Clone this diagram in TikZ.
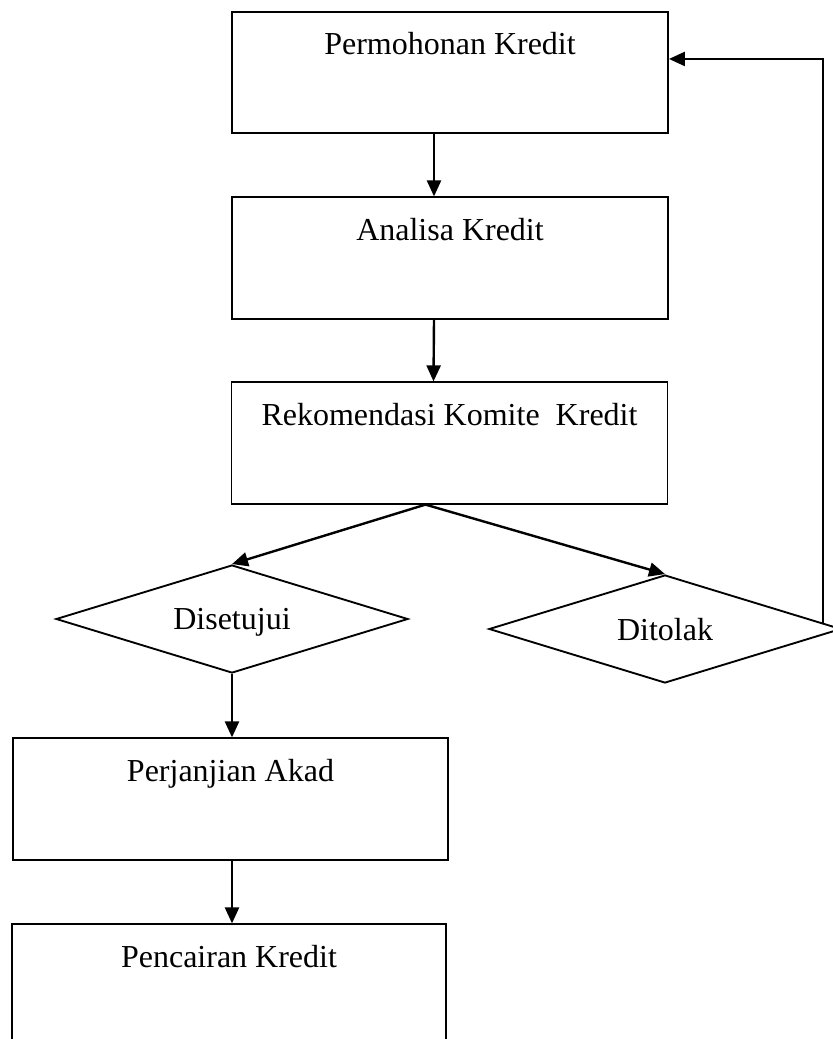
\documentclass[tikz,border=0pt]{standalone}
\usepackage{fontspec}
\setmainfont{Liberation Serif}
\usetikzlibrary{arrows.meta,shapes.geometric,calc}
\tikzset{
    stepbox/.style={draw, line width=1.4pt, inner sep=0pt, text height=32pt, text depth=59pt},
    choice/.style={draw, diamond, aspect=3.26, line width=1.4pt, inner sep=0pt, text depth=0pt, minimum width=264pt, minimum height=81pt},
    flow/.style={-{Triangle[length=12pt,width=10.5pt]}, black, line width=1.8pt}
}

\begin{document}
\begin{tikzpicture}[x=0.75pt, y=-0.75pt, font=\fontsize{24}{28}\selectfont]
    \useasboundingbox (0,0) rectangle (832,1039);

    % Upper column
    \node[stepbox, minimum width=327pt] (mohon) at (450,72.5) {Permohonan Kredit};
    \node[stepbox, minimum width=327pt] (analisa) at (450,258) {Analisa Kredit};
    \node[stepbox, minimum width=327pt] (rekom) at (449.5,443) {Rekomendasi Komite\ \ Kredit};

    % Decisions
    \node[choice] (setuju) at (232,619) {Disetujui};
    \node[choice] (tolak) at (665,629) {Ditolak};

    % Lower column
    \node[stepbox, minimum width=326pt] (akad) at (230.5,799) {Perjanjian Akad};
    \node[stepbox, minimum width=326pt] (cair) at (229,985) {Pencairan Kredit};

    \coordinate (pisah) at ([xshift=-18pt]rekom.south);
    \coordinate (balik) at (823,623);

    \path
    % Upper column
	([xshift=-12pt]mohon.south) [flow] edge ([xshift=-12pt]analisa.north)
	([xshift=-12pt]analisa.south) [flow] edge ([xshift=-12pt]rekom.north)
	(pisah) [flow] edge (setuju.north)
	(pisah) [flow] edge (tolak.north)

	% Lower column
	(setuju.south) [flow] edge (setuju.south |- akad.north)
	(setuju.south |- akad.south) [flow] edge (setuju.south |- cair.north);

    % Back to the request
    \draw[flow] (balik) |- ($(mohon.north east)!0.39!(mohon.south east)$);
\end{tikzpicture}
\end{document}
